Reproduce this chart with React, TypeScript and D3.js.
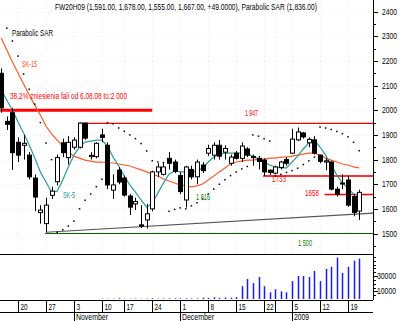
import React from 'react';
import * as d3 from 'd3';

// trading days shown (holidays are skipped, x is the day index)
const dates = [
  '2008-10-15', '2008-10-16', '2008-10-17', '2008-10-20', '2008-10-21', '2008-10-22', '2008-10-23', '2008-10-24',
  '2008-10-27', '2008-10-28', '2008-10-29', '2008-10-30', '2008-10-31',
  '2008-11-03', '2008-11-04', '2008-11-05', '2008-11-06', '2008-11-07', '2008-11-10', '2008-11-12', '2008-11-13',
  '2008-11-14', '2008-11-17', '2008-11-18', '2008-11-19', '2008-11-20', '2008-11-21', '2008-11-24', '2008-11-25',
  '2008-11-26', '2008-11-27', '2008-11-28',
  '2008-12-01', '2008-12-02', '2008-12-03', '2008-12-04', '2008-12-05', '2008-12-08', '2008-12-09', '2008-12-10',
  '2008-12-11', '2008-12-12', '2008-12-15', '2008-12-16', '2008-12-17', '2008-12-18', '2008-12-19', '2008-12-22',
  '2008-12-23', '2008-12-29', '2008-12-30',
  '2009-01-02', '2009-01-05', '2009-01-06', '2009-01-07', '2009-01-08', '2009-01-09', '2009-01-12', '2009-01-13',
  '2009-01-14', '2009-01-15', '2009-01-16', '2009-01-19', '2009-01-20', '2009-01-21'
];

const open = [
  2150, 1955, 1990, 1870, 1858, 1818, 1725, 1585, 1540, 1655, 1710, 1868, 1808,
  1850, 1850, 1948, 1812, 1812, 1900, 1858, 1676, 1757, 1725, 1652, 1620, 1535, 1555, 1600, 1750, 1740, 1805, 1790,
  1735, 1636, 1760, 1730, 1778, 1826, 1818, 1858, 1830, 1785, 1826, 1805, 1843, 1808, 1805, 1798, 1757, 1745, 1768,
  1800, 1826, 1880, 1908, 1868, 1880, 1818, 1790, 1790, 1680, 1705, 1717, 1650, 1591
];
const high = [
  2170, 1975, 2010, 1890, 1900, 1830, 1740, 1615, 1645, 1690, 1820, 1885, 1895,
  1890, 1950, 1950, 1830, 1870, 1925, 1870, 1740, 1770, 1735, 1660, 1645, 1615, 1620, 1755, 1785, 1790, 1830, 1800,
  1750, 1775, 1775, 1800, 1790, 1860, 1870, 1880, 1858, 1820, 1835, 1870, 1850, 1820, 1815, 1805, 1760, 1775, 1795,
  1810, 1925, 1930, 1912, 1890, 1895, 1820, 1805, 1795, 1690, 1740, 1735, 1660, 1678
];
const low = [
  1990, 1920, 1758, 1790, 1800, 1720, 1590, 1540, 1505, 1640, 1695, 1810, 1780,
  1840, 1845, 1880, 1800, 1805, 1870, 1680, 1640, 1700, 1650, 1575, 1595, 1522, 1520, 1590, 1730, 1735, 1760, 1745,
  1660, 1605, 1720, 1700, 1745, 1815, 1800, 1800, 1800, 1775, 1800, 1790, 1810, 1775, 1760, 1733, 1738, 1740, 1760,
  1775, 1822, 1875, 1885, 1850, 1820, 1785, 1757, 1675, 1650, 1680, 1608, 1570, 1555
];
const close = [
  2010, 1943, 1828, 1818, 1866, 1730, 1648, 1595, 1615, 1672, 1808, 1828, 1870,
  1879, 1948, 1887, 1817, 1866, 1890, 1697, 1697, 1709, 1656, 1607, 1630, 1530, 1580, 1750, 1770, 1770, 1785, 1752,
  1670, 1770, 1730, 1790, 1755, 1845, 1858, 1814, 1845, 1810, 1805, 1855, 1818, 1812, 1792, 1750, 1748, 1770, 1790,
  1785, 1883, 1912, 1892, 1882, 1826, 1793, 1795, 1680, 1660, 1705, 1615, 1585, 1667
];
const volume = [
  0, 0, 0, 0, 0, 0, 0, 0, 0, 0, 0, 0, 0,
  0, 0, 0, 0, 0, 400, 300, 400, 900, 400, 400, 500, 400, 500, 900, 500, 600, 700, 900,
  700, 800, 700, 800, 1800, 1500, 2200, 1600, 2000, 1700, 2500, 16700, 26000, 20700, 28700, 16700, 8700, 12700, 10000,
  8700, 23300, 30000, 30000, 28700, 36700, 23300, 39300, 42000, 54000, 34000, 42000, 50000, 52700
];
// moving averages (SK-5 teal, SK-15 orange)
const sk5 = [
  2082, 2041, 2001, 1952, 1908, 1859, 1806, 1750, 1709, 1668, 1672, 1717, 1770,
  1818, 1851, 1871, 1875, 1879, 1879, 1855, 1810, 1774, 1733, 1697, 1668, 1636, 1607, 1624, 1664, 1705, 1741, 1754,
  1750, 1750, 1750, 1754, 1766, 1790, 1810, 1822, 1826, 1826, 1826, 1826, 1822, 1814, 1802, 1790, 1778, 1770, 1766,
  1766, 1790, 1814, 1843, 1867, 1879, 1851, 1818, 1778, 1737, 1705, 1684, 1660, 1652
];
const sk15 = [
  2293, 2245, 2196, 2151, 2107, 2062, 2021, 1981, 1936, 1904, 1879, 1855, 1831,
  1814, 1806, 1798, 1794, 1790, 1790, 1786, 1786, 1782, 1778, 1774, 1766, 1758, 1750, 1741, 1733, 1721, 1713, 1705,
  1697, 1693, 1689, 1693, 1701, 1717, 1733, 1750, 1766, 1782, 1790, 1794, 1798, 1798, 1802, 1802, 1806, 1806, 1810,
  1810, 1814, 1818, 1822, 1826, 1826, 1818, 1806, 1798, 1790, 1782, 1778, 1770, 1766
];
const sar = [
  null, 2333, 2281, 2220, 2147, 2085, 2025, 1950, 1867, 1800, 1505, 1515, 1530,
  1550, 1600, 1635, 1660, 1690, 1720, 1950, 1945, 1928, 1915, 1900, 1885, 1865, 1835, 1795, 1790, 1788, 1590, 1598,
  1604, 1600, 1612, 1625, 1640, 1660, 1680, 1700, 1718, 1735, 1750, 1762, 1772, 1900, 1895, 1885, 1875, 1733, 1740,
  1748, 1755, 1765, 1780, 1795, 1810, 1932, 1928, 1922, 1914, 1905, 1892, 1870, 1836
];

const priceTicks = [1500, 1600, 1700, 1800, 1900, 2000, 2100, 2200, 2300, 2400];
const volumeTicks = [10000, 30000];
const weekTicks = [
  '2008-10-20', '2008-10-27', '2008-11-03', '2008-11-10', '2008-11-17', '2008-11-24', '2008-12-01',
  '2008-12-08', '2008-12-15', '2008-12-22', '2008-12-29', '2009-01-05', '2009-01-12', '2009-01-19'
];
const weekLabels = ['20', '27', '3', '10', '17', '24', '1', '8', '15', '22', '', '5', '12', '19'];
const monthNames = ['November', 'December', '2009'];
const monthStarts = ['2008-11-03', '2008-12-01', '2009-01-05'];

const levelValues = [2000, 1947, 1733, 1658, 1500];
const levelFrom = ['2008-10-15', '2008-11-04', '2008-12-22', '2009-01-13', '2008-10-27'];
const levelTo = ['2008-11-24', '', '', '', ''];
const trendIndex = [8, 66.5];
const trendPrice = [1505, 1583];

const title = 'FW20H09 (1,591.00, 1,678.00, 1,555.00, 1,667.00, +49.0000), Parabolic SAR (1,836.00)';

const W = 400;
const H = 321;
const AXIS = 373;
const PANEL_BOTTOM = 254;
const FONT = '"Liberation Sans Narrow", "Arial Narrow", "Liberation Sans", Arial, sans-serif';

const levelStyle = [
  { color: '#ff0000', width: 3 },
  { color: '#ff0000', width: 1.3 },
  { color: '#ff3030', width: 2 },
  { color: '#ff0000', width: 1.4 },
  { color: '#006600', width: 1.2 },
];

function Txt({ x, y, len, fill = '#000', size = 8.5, children }: any) {
  return (
    <text x={x} y={y} fontSize={size} fill={fill} fontFamily={FONT}
      textLength={len} lengthAdjust="spacingAndGlyphs">{children}</text>
  );
}

export default function App() {
  const x = d3.scaleLinear().domain([3, 62]).range([18, 348]);
  const y = d3.scaleLinear().domain([1500, 2400]).range([233.5, 11.7]);
  const yv = d3.scaleLinear().domain([0, 30000]).range([299, 276]);
  const xd = (d: string) => x(dates.indexOf(d));

  const line = d3.line<number>().x((d, i) => x(i)).y(d => y(d));
  const minorPrice = d3.range(1450, 2450, 50);
  const minorVol = d3.range(5000, 60000, 5000);

  return (
    <svg width={W} height={H} style={{ position: 'absolute', left: 0, top: 0, background: '#fff' }}>
      <defs>
        <clipPath id="pc"><rect x={0} y={0} width={AXIS} height={PANEL_BOTTOM} /></clipPath>
      </defs>

      {/* faint dotted grid */}
      <g stroke="#ececec" strokeWidth={1} strokeDasharray="1,3">
        {priceTicks.map(p => <line key={p} x1={0} x2={AXIS} y1={Math.round(y(p)) + 0.5} y2={Math.round(y(p)) + 0.5} />)}
        {weekTicks.map(d => <line key={d} x1={Math.round(xd(d)) + 0.5} x2={Math.round(xd(d)) + 0.5} y1={0} y2={PANEL_BOTTOM} />)}
      </g>

      <g clipPath="url(#pc)">
        {/* levels */}
        {levelValues.map((v, i) => (
          <line key={v} x1={xd(levelFrom[i]) - 1} x2={levelTo[i] ? xd(levelTo[i]) : AXIS}
            y1={y(v)} y2={y(v)} stroke={levelStyle[i].color} strokeWidth={levelStyle[i].width} />
        ))}
        {/* support trend line */}
        <line x1={x(trendIndex[0])} y1={y(trendPrice[0])} x2={x(trendIndex[1])} y2={y(trendPrice[1])}
          stroke="#555" strokeWidth={1.2} />

        {/* moving averages */}
        <path d={line(sk15) || ''} fill="none" stroke="#ff5a28" strokeWidth={1.2} />
        <path d={line(sk5) || ''} fill="none" stroke="#2a9c9c" strokeWidth={1.2} />

        {/* candles */}
        {dates.map((d, i) => {
          const cx = Math.round(x(i)) + 0.5;
          const up = close[i] >= open[i];
          const top = y(Math.max(open[i], close[i]));
          const bot = y(Math.min(open[i], close[i]));
          return (
            <g key={d}>
              <line x1={cx} x2={cx} y1={y(high[i])} y2={y(low[i])} stroke="#000" strokeWidth={1} />
              <rect x={cx - 2} y={top} width={4} height={Math.max(1, bot - top)}
                fill={up ? '#fff' : '#000'} stroke="#000" strokeWidth={1} />
            </g>
          );
        })}

        {/* parabolic SAR */}
        {sar.map((v, i) => v == null ? null : (
          <rect key={i} x={x(i) - 0.75} y={y(v) - 0.75} width={1.5} height={1.5} fill="#000" />
        ))}
      </g>

      {/* annotations */}
      <Txt x={55} y={10} len={262}>{title}</Txt>
      <Txt x={12} y={36} len={41}>Parabolic SAR</Txt>
      <Txt x={22} y={67} len={15} fill="#ff4a20">SK-15</Txt>
      <Txt x={10} y={99} len={117} fill="#ff0000">38,2% zniesienia fali od 6.08.08 to:2 000</Txt>
      <Txt x={245} y={116} len={13} fill="#ff0000">1 947</Txt>
      <Txt x={272} y={182} len={14} fill="#ff0000">1733</Txt>
      <Txt x={305} y={196} len={14} fill="#ff0000">1658</Txt>
      <Txt x={63} y={198} len={12} fill="#1f8f8f">SK-5</Txt>
      <Txt x={196} y={200} len={14} fill="#008000">1 616</Txt>
      <Txt x={298} y={246} len={14} fill="#008000">1 500</Txt>

      {/* volume panel */}
      <line x1={0} x2={AXIS} y1={PANEL_BOTTOM + 0.5} y2={PANEL_BOTTOM + 0.5} stroke="#000" strokeWidth={1} />
      {volume.map((v, i) => v > 0 ? (
        <rect key={i} x={Math.round(x(i)) - 0.25} y={yv(v)} width={1.5} height={yv(0) - yv(v)} fill="#1a1aff" />
      ) : null)}

      {/* right axis */}
      <line x1={AXIS + 0.5} x2={AXIS + 0.5} y1={0} y2={300} stroke="#000" strokeWidth={1} />
      {minorPrice.map(p => (
        <line key={p} x1={AXIS} x2={p % 100 === 0 ? AXIS + 5 : AXIS + 3}
          y1={Math.round(y(p)) + 0.5} y2={Math.round(y(p)) + 0.5} stroke="#000" />
      ))}
      {priceTicks.map(p => (
        <Txt key={p} x={382} y={y(p) + 3} len={15}>{p}</Txt>
      ))}
      {minorVol.map(v => (
        <line key={v} x1={AXIS} x2={v % 10000 === 0 && v <= 30000 && v !== 20000 ? AXIS + 5 : AXIS + 3}
          y1={Math.round(yv(v)) + 0.5} y2={Math.round(yv(v)) + 0.5} stroke="#000" />
      ))}
      {volumeTicks.map(v => (
        <Txt key={v} x={377} y={yv(v) + 3} len={19}>{v}</Txt>
      ))}

      {/* date band */}
      <line x1={0} x2={AXIS} y1={300.5} y2={300.5} stroke="#000" />
      <line x1={0} x2={AXIS} y1={312.5} y2={312.5} stroke="#000" />
      {weekTicks.map((d, i) => {
        const tx = Math.round(xd(d)) + 0.5;
        return (
          <g key={d}>
            <line x1={tx} x2={tx} y1={300} y2={monthStarts.includes(d) ? H : 312} stroke="#000" />
            {weekLabels[i] && <Txt x={tx + 2} y={310} len={weekLabels[i].length * 3.6}>{weekLabels[i]}</Txt>}
          </g>
        );
      })}
      {monthNames.map((m, i) => (
        <Txt key={m} x={Math.round(xd(monthStarts[i])) + 2} y={320} len={m === '2009' ? 15 : 32}>{m}</Txt>
      ))}
    </svg>
  );
}
